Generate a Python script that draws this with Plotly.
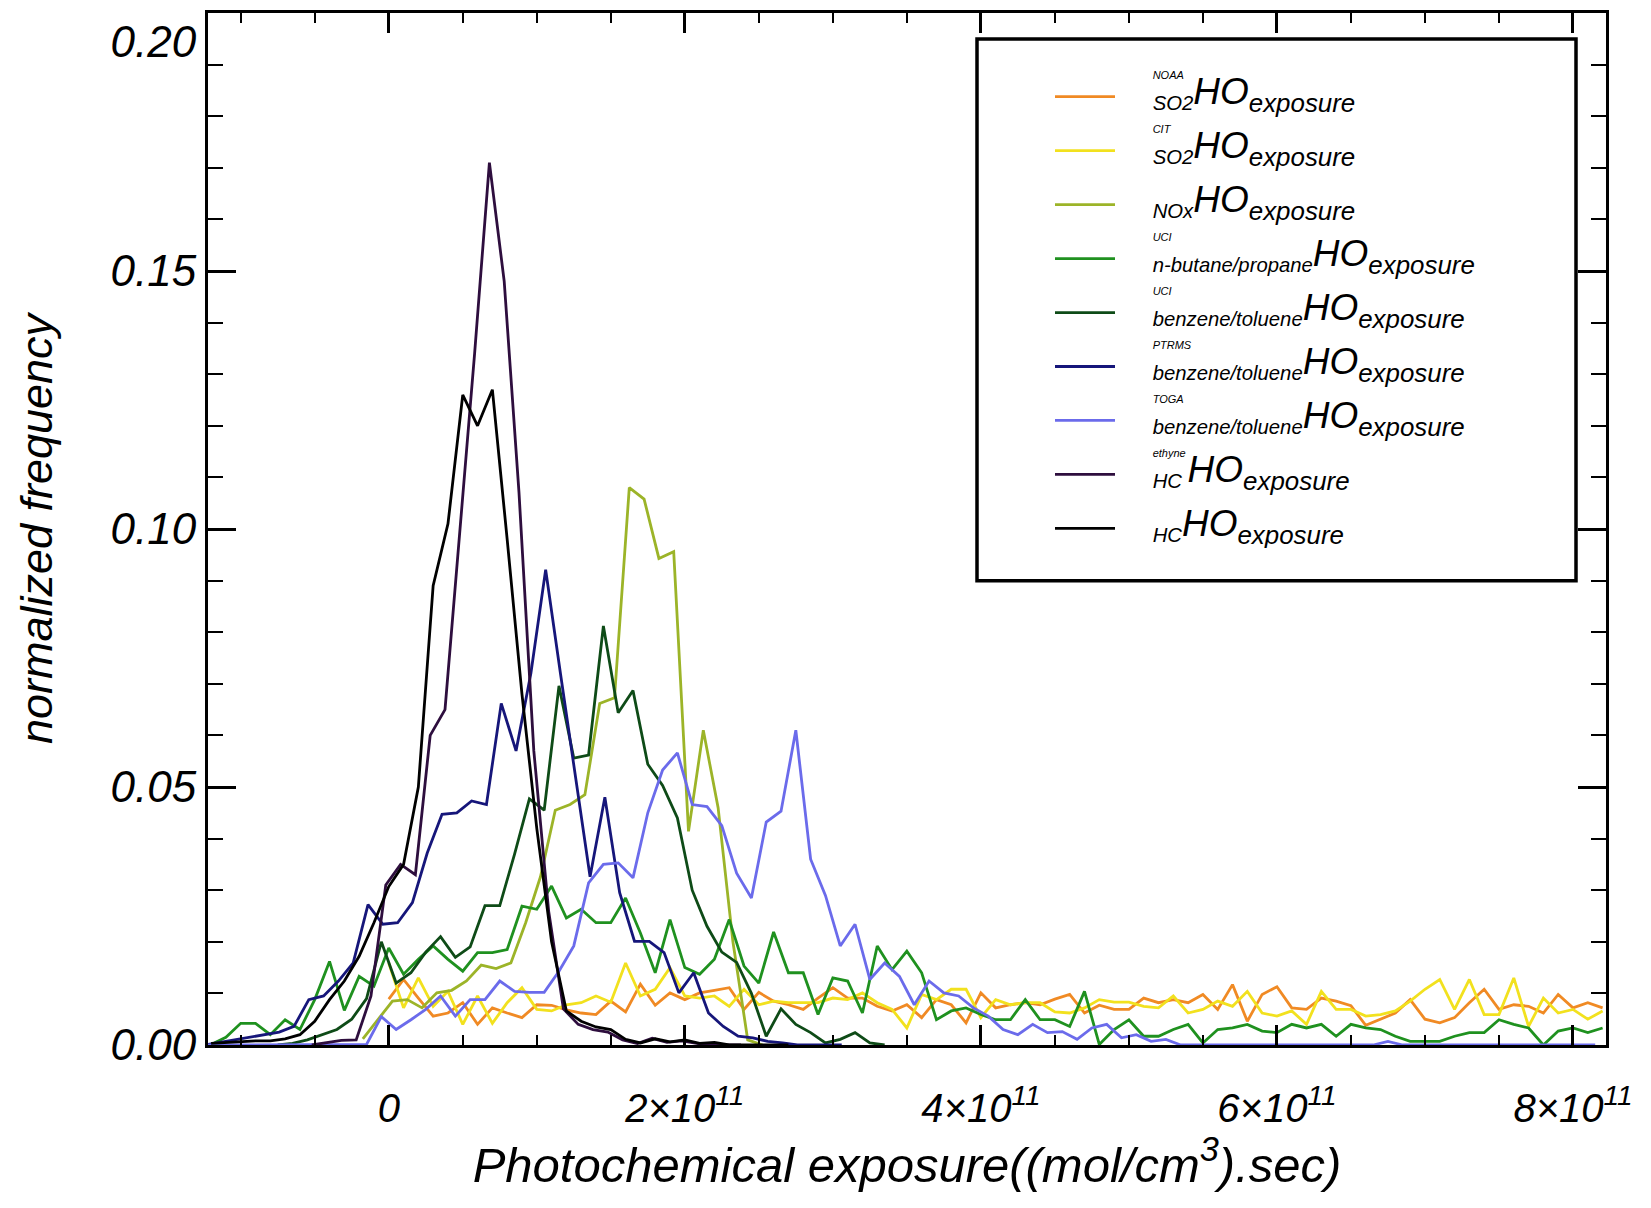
import plotly.graph_objects as go

# ---------------- data (bin width 1e10 (mol/cm3).sec; values are normalized frequency x 1000) ----------------
BIN = 1e10

noaa_so2_start, noaa_so2_off = 0, 0.0
noaa_so2 = [8.9, 12.7, 9.1, 5.6, 6.2, 8.2, 4.0, 7.2, 6.2, 5.3,
            7.8, 7.7, 6.8, 6.2, 5.9, 8.5, 6.4, 11.8, 7.7, 10.1,
            8.8, 10.1, 10.6, 11.1, 6.9, 10.2, 8.5, 7.8, 6.9, 9.1,
            11.1, 9.1, 9.1, 7.5, 6.6, 7.8, 5.3, 8.8, 7.8, 4.3,
            10.1, 7.2, 7.8, 8.2, 7.8, 8.9, 9.8, 6.2, 7.7, 6.9,
            6.9, 9.1, 8.2, 8.8, 8.2, 9.8, 6.9, 11.7, 4.6, 9.8,
            11.3, 7.2, 6.9, 9.1, 8.5, 7.6, 3.8, 5.0, 6.2, 8.8,
            5.0, 4.3, 5.3, 8.2, 10.8, 6.9, 7.8, 7.5, 6.2, 9.8,
            7.2, 8.2, 7.2]

cit_so2_start, cit_so2_off = 0, 0.0
cit_so2 = [15.9, 7.2, 13.0, 7.5, 10.4, 4.0, 9.5, 4.2, 8.2, 11.1,
           6.9, 6.6, 7.8, 8.2, 9.5, 8.3, 15.9, 9.5, 10.8, 15.0,
           9.5, 9.1, 9.5, 7.5, 10.8, 7.8, 8.5, 8.2, 8.2, 8.2,
           9.1, 8.8, 10.1, 8.2, 6.9, 3.3, 9.8, 8.8, 10.8, 10.8,
           5.3, 8.8, 7.8, 8.2, 8.2, 6.4, 6.2, 7.2, 8.8, 8.3,
           8.3, 7.5, 7.2, 9.5, 6.2, 6.9, 8.5, 7.5, 10.4, 6.2,
           5.6, 6.6, 4.0, 10.4, 6.9, 6.9, 5.6, 5.9, 6.6, 8.5,
           10.8, 12.7, 6.9, 12.7, 5.9, 5.9, 13.0, 3.6, 9.1, 6.2,
           6.9, 5.0, 6.6]

nox_start, nox_off = -2, 0.25
nox = [1.2, 4.9, 8.5, 8.8, 7.2, 10.1, 10.6, 12.4, 15.5, 14.8,
       15.9, 23.7, 32.6, 45.5, 46.6, 48.5, 66.2, 67.3, 108.0, 105.8,
       94.3, 95.6, 41.4, 61.0, 46.0, 20.0, 1.0, 0.0]

uci_but_start, uci_but_off = -12, 0.0
uci_but = [0.1, 1.5, 4.2, 4.2, 2.0, 4.9, 3.0, 8.8, 16.2, 6.7,
           13.3, 11.4, 18.8, 13.7, 16.6, 19.2, 16.6, 14.3, 17.9, 17.9,
           18.5, 26.9, 26.3, 30.8, 24.6, 26.3, 23.7, 23.7, 28.5, 21.7,
           14.0, 24.3, 15.0, 13.7, 16.6, 24.3, 15.3, 12.0, 21.9, 14.0,
           14.0, 5.9, 13.0, 12.4, 6.2, 19.2, 14.6, 18.2, 14.0, 4.9,
           6.6, 7.2, 5.9, 4.9, 4.9, 8.8, 4.9, 4.9, 3.6, 10.4,
           0.1, 3.0, 4.9, 1.7, 1.7, 3.0, 4.0, 0.4, 3.0, 3.3,
           4.0, 2.7, 2.4, 4.0, 3.3, 4.0, 1.7, 4.0, 3.3, 3.0,
           1.7, 0.7, 0.7, 0.7, 1.7, 2.4, 2.4, 4.9, 4.0, 3.3,
           0.0, 2.7, 3.3, 2.4, 3.3]

uci_bt_start, uci_bt_off = -8, 0.5
uci_bt = [0.0, 0.3, 1.0, 2.0, 3.0, 5.0, 9.0, 20.0,
          12.0, 14.0, 18.0, 21.0, 17.0, 19.0, 27.0, 27.0, 37.0,
          47.7, 45.5, 69.6, 55.6, 56.2, 81.2, 64.4, 68.7, 54.4, 50.3,
          44.0, 30.0, 23.0, 18.0, 16.0, 10.0, 1.7, 7.0, 4.0, 2.4,
          0.4, 1.1, 2.4, 0.4, 0.0]

ptrms_start, ptrms_off = -13, 0.6
ptrms = [0.0, 0.5, 1.1, 1.5, 2.0, 2.5, 3.6, 8.8, 9.5, 12.4,
         15.9, 27.2, 23.4, 23.7, 27.6, 37.2, 44.7, 45.0, 47.3, 46.6,
         66.2, 57.0, 72.0, 92.1, 72.0, 52.0, 32.6, 48.0, 29.5, 20.1,
         20.1, 17.9, 10.1, 14.0, 6.2, 3.6, 1.7, 1.4, 0.7, 0.4,
         0.0, 0.0, 0.0, 0.0]

toga_start, toga_off = -13, 0.5
toga = [0.0, 0.0, 0.0, 0.0, 0.0, 0.0, 0.0, 0.0, 0.0, 0.0,
        0.0, 0.1, 5.5, 3.0, 4.9, 6.9, 9.5, 5.6, 8.8, 8.8,
        12.4, 10.4, 10.2, 10.2, 14.3, 19.2, 31.4, 35.0, 35.3, 32.4,
        45.0, 53.3, 56.6, 46.6, 46.2, 42.5, 33.3, 28.5, 43.2, 45.3,
        61.0, 36.0, 29.0, 19.2, 23.4, 12.7, 15.9, 13.3, 7.8, 12.4,
        10.1, 9.5, 7.2, 5.6, 3.0, 2.0, 4.0, 2.4, 2.6, 1.1,
        3.3, 4.0, 1.4, 2.0, 0.7, 1.1, 0.0, 0.0, 0.0, 0.0,
        0.0, 0.0, 0.0, 0.0, 0.0, 0.0, 0.0, 0.0, 0.0, 0.0,
        0.7, 0.0, 0.0, 0.0, 0.0, 0.0, 0.0, 0.0, 0.0, 0.0,
        0.0, 0.0, 0.0, 0.0, 0.0]

ethyne_start, ethyne_off = -5, -0.2
ethyne = [0.0, 0.5, 0.9, 1.0, 9.5, 31.0, 35.0, 33.0, 60.0, 65.0,
          99.0, 134.0, 171.0, 148.0, 107.0, 57.0, 26.0, 7.0, 4.0, 3.0,
          2.5, 1.0, 0.3, 1.3, 0.5, 0.8, 0.3, 0.0, 0.0, 0.0]

hc_start, hc_off = -12, 0.0
hc = [0.3, 0.5, 0.6, 0.8, 0.8, 1.2, 2.0, 4.6, 8.8, 12.4,
      17.2, 23.7, 30.7, 35.0, 50.0, 89.0, 101.0, 126.0, 120.0, 127.0,
      98.0, 68.0, 42.0, 20.0, 6.6, 4.6, 3.5, 3.0, 1.1, 0.4,
      1.2, 0.6, 1.0, 0.3, 0.5, 0.0, 0.0, 0.0, 0.0, 0.0]

x_tickvals = [0, 2e11, 4e11, 6e11, 8e11]
x_ticktext = ["0", "2\u00d710<sup>11</sup>", "4\u00d710<sup>11</sup>",
              "6\u00d710<sup>11</sup>", "8\u00d710<sup>11</sup>"]
y_tickvals = [0.0, 0.05, 0.10, 0.15, 0.20]
y_ticktext = ["0.00", "0.05", "0.10", "0.15", "<br>0.20"]

# (label top, label prefix, colour, values, start, offset)
series = [
    ("NOAA", "SO2", "#F08A24", noaa_so2, noaa_so2_start, noaa_so2_off),
    ("CIT", "SO2", "#F2E11E", cit_so2, cit_so2_start, cit_so2_off),
    ("&nbsp;", "NOx", "#9CB428", nox, nox_start, nox_off),
    ("UCI", "n-butane/propane", "#1F911F", uci_but, uci_but_start, uci_but_off),
    ("UCI", "benzene/toluene", "#0E4B17", uci_bt, uci_bt_start, uci_bt_off),
    ("PTRMS", "benzene/toluene", "#16167A", ptrms, ptrms_start, ptrms_off),
    ("TOGA", "benzene/toluene", "#6B6BEB", toga, toga_start, toga_off),
    ("ethyne", "HC&nbsp;", "#2E0E3E", ethyne, ethyne_start, ethyne_off),
    ("&nbsp;", "HC", "#000000", hc, hc_start, hc_off),
]

PAD = "&nbsp;" * 6


def label(top, prefix):
    return (PAD + "<span style='font-size:11px'>" + top + "</span><br>" + PAD +
            "<span style='font-size:29px'><sub>" + prefix + "</sub></span>"
            "<span style='font-size:37px'>HO</span>"
            "<span style='font-size:37px'><sub>exposure</sub></span>")


fig = go.Figure()
for top, prefix, color, vals, start, off in series:
    xs = [(start + i + off) * BIN for i in range(len(vals))]
    ys = [v / 1000.0 for v in vals]
    fig.add_trace(go.Scatter(x=xs, y=ys, mode="lines", name=label(top, prefix),
                             line=dict(color=color, width=2.8), showlegend=True))

# plot-area geometry in pixels (1651 x 1208 page)
L, R, T, B = 208, 1606, 13, 1045.5
W, H = 1651, 1208
pw, ph = R - L, B - T


def px_x(p):
    return (p - L) / pw


def px_y(p):
    return (B - p) / ph


fig.add_shape(type="rect", xref="paper", yref="paper",
              x0=px_x(977), x1=px_x(1576), y0=px_y(581), y1=px_y(39),
              line=dict(color="black", width=3.5), fillcolor="white", layer="above")

font_fam = "Liberation Sans, Arial, sans-serif"

fig.update_layout(
    width=W, height=H,
    margin=dict(l=L, r=W - R, t=T, b=H - B, autoexpand=False),
    paper_bgcolor="white", plot_bgcolor="white",
    showlegend=True,
    legend=dict(x=px_x(1050), y=px_y(52), xanchor="left", yanchor="top",
                bgcolor="rgba(0,0,0,0)", borderwidth=0,
                font=dict(family=font_fam, size=19.6, color="black", style="italic"),
                itemwidth=60, valign="bottom", tracegroupgap=0),
    font=dict(family=font_fam, color="black", style="italic"),
)

fig.update_xaxes(
    range=[-1.221e11, 8.223e11], showgrid=False, zeroline=False,
    showline=True, linecolor="black", linewidth=3, mirror="ticks",
    ticks="inside", ticklen=20, tickwidth=2.5, tickcolor="black",
    tickmode="array", tickvals=x_tickvals, ticktext=x_ticktext,
    tickfont=dict(family=font_fam, size=40, color="black", style="italic"),
    ticklabelstandoff=26,
    minor=dict(tickmode="linear", tick0=0, dtick=5e10, ticks="inside",
               ticklen=10, tickwidth=2, tickcolor="black"),
    title=dict(text="Photochemical exposure((mol/cm<sup>3</sup>).sec)",
               font=dict(family=font_fam, size=49, color="black", style="italic"),
               standoff=0),
    layer="above traces",
)
fig.update_yaxes(
    range=[0, 0.2], showgrid=False, zeroline=False,
    showline=True, linecolor="black", linewidth=3, mirror="ticks",
    ticks="inside", ticklen=28, tickwidth=2.5, tickcolor="black",
    tickmode="array", tickvals=y_tickvals, ticktext=y_ticktext,
    tickfont=dict(family=font_fam, size=44, color="black", style="italic"),
    ticklabelstandoff=0, ticklabeloverflow="allow",
    minor=dict(tickmode="linear", tick0=0, dtick=0.01, ticks="inside",
               ticklen=15, tickwidth=2, tickcolor="black"),
    title=dict(text="normalized frequency",
               font=dict(family=font_fam, size=45, color="black", style="italic"),
               standoff=44),
    layer="above traces",
)

fig.write_html("out.html")
